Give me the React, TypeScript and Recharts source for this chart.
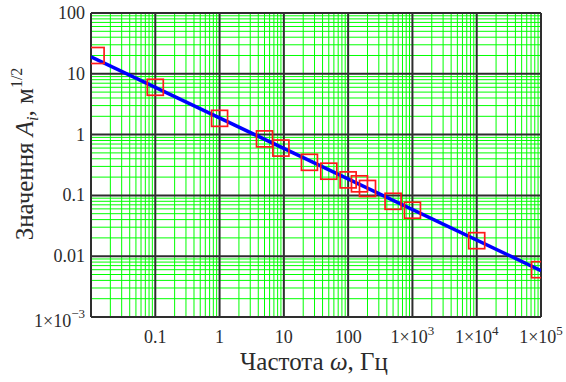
import React from 'react';
import { ComposedChart, Label, Line, ReferenceLine, XAxis, YAxis } from 'recharts';

// measured amplitude vs frequency
const freqHz = [0.012, 0.1, 1, 5, 9, 25, 50, 100, 150, 200, 500, 1000, 10000, 95000];
const amplitude = [20, 6, 1.85, 0.85, 0.6, 0.35, 0.25, 0.18, 0.155, 0.13, 0.08, 0.057, 0.018, 0.006];

// fitted power-law line (end points)
const fitFreq = [0.01, 100000];
const fitAmp = [19, 0.0058];

const xDecades = [0.01, 0.1, 1, 10, 100, 1000, 10000, 100000];
const yDecades = [0.001, 0.01, 0.1, 1, 10, 100];
const minorSteps = [2, 3, 4, 5, 6, 7, 8, 9];

const xTicks = [0.1, 1, 10, 100, 1000, 10000, 100000];
const xTickText = ['0.1', '1', '10', '100', '1×10', '1×10', '1×10'];
const xTickExp = ['', '', '', '', '3', '4', '5'];

const yTicks = [0.001, 0.01, 0.1, 1, 10, 100];
const yTickText = ['1×10', '0.01', '0.1', '1', '10', '100'];
const yTickExp = ['−3', '', '', '', '', ''];

const points = freqHz.map((f, i) => ({ freq: f, amp: amplitude[i] }));
const fitLine = fitFreq.map((f, i) => ({ freq: f, amp: fitAmp[i] }));

const minorOf = (decades: number[]) =>
  decades.slice(0, -1).flatMap((d) => minorSteps.map((m) => d * m));
const xMinor = minorOf(xDecades);
const yMinor = minorOf(yDecades);

const FONT = '"Liberation Serif", "Times New Roman", serif';
const INK = '#2b2b2b';
const GREEN = '#00ff00';
const MAJOR = '#2e2e2e';

function XTick({ x, y, payload }: any) {
  const i = xTicks.indexOf(payload.value);
  return (
    <text x={x} y={y + 24} textAnchor="middle" fontFamily={FONT} fontSize={18} fill={INK}>
      {xTickText[i]}
      {xTickExp[i] && (
        <tspan dy={-8} fontSize={13}>
          {xTickExp[i]}
        </tspan>
      )}
    </text>
  );
}

function YTick({ x, y, payload }: any) {
  const i = yTicks.indexOf(payload.value);
  const exp = yTickExp[i];
  return (
    <text x={x - 4} y={y + (exp ? 10 : 6)} textAnchor="end" fontFamily={FONT} fontSize={18} fill={INK}>
      {yTickText[i]}
      {exp && (
        <tspan dy={-9} fontSize={13}>
          {exp}
        </tspan>
      )}
    </text>
  );
}

const Square = ({ cx, cy }: any) =>
  cx == null || cy == null ? null : (
    <rect x={cx - 8} y={cy - 8} width={16} height={16} fill="none" stroke="#ff1a1a" strokeWidth={1.7} />
  );

export default function App() {
  return (
    <div style={{ position: 'absolute', left: 0, top: 0, background: '#fff' }}>
      <ComposedChart width={566} height={382} margin={{ top: 13, right: 25, bottom: 0, left: 0 }}>
        <XAxis
          dataKey="freq"
          type="number"
          scale="log"
          domain={[0.01, 100000]}
          ticks={xTicks}
          allowDataOverflow
          axisLine={false}
          tickLine={false}
          tickSize={0}
          height={65}
          tick={<XTick />}
          interval={0}
        >
          <Label
            content={() => (
              <text x={314} y={370} textAnchor="middle" fontFamily={FONT} fontSize={25} fill={INK}>
                Частота <tspan fontStyle="italic">ω</tspan>, Гц
              </text>
            )}
          />
        </XAxis>
        <YAxis
          dataKey="amp"
          type="number"
          scale="log"
          domain={[0.001, 100]}
          ticks={yTicks}
          allowDataOverflow
          axisLine={false}
          tickLine={false}
          tickSize={0}
          width={91}
          tick={<YTick />}
          interval={0}
        >
          <Label
            content={() => (
              <text
                transform="translate(33,154) rotate(-90)"
                textAnchor="middle"
                fontFamily={FONT}
                fontSize={25}
                fill={INK}
              >
                Значення <tspan fontStyle="italic">A</tspan>
                <tspan fontStyle="italic" fontSize={16} dy={5}>
                  i
                </tspan>
                <tspan dy={-5}>, м</tspan>
                <tspan fontSize={16} dy={-11}>
                  1/2
                </tspan>
              </text>
            )}
          />
        </YAxis>

        {xMinor.map((v) => (
          <ReferenceLine key={`xm${v}`} x={v} stroke={GREEN} strokeWidth={1} zIndex={-100} />
        ))}
        {yMinor.map((v) => (
          <ReferenceLine key={`ym${v}`} y={v} stroke={GREEN} strokeWidth={1} zIndex={-100} />
        ))}
        {xDecades.map((v) => (
          <ReferenceLine key={`xd${v}`} x={v} stroke={MAJOR} strokeWidth={2} zIndex={-90} />
        ))}
        {yDecades.map((v) => (
          <ReferenceLine key={`yd${v}`} y={v} stroke={MAJOR} strokeWidth={2} zIndex={-90} />
        ))}

        <Line
          data={points}
          dataKey="amp"
          stroke="none"
          strokeWidth={0}
          dot={<Square />}
          activeDot={false}
          isAnimationActive={false}
        />
        <Line
          data={fitLine}
          dataKey="amp"
          stroke="#0000ff"
          strokeWidth={3.5}
          dot={false}
          activeDot={false}
          isAnimationActive={false}
        />
      </ComposedChart>
    </div>
  );
}
